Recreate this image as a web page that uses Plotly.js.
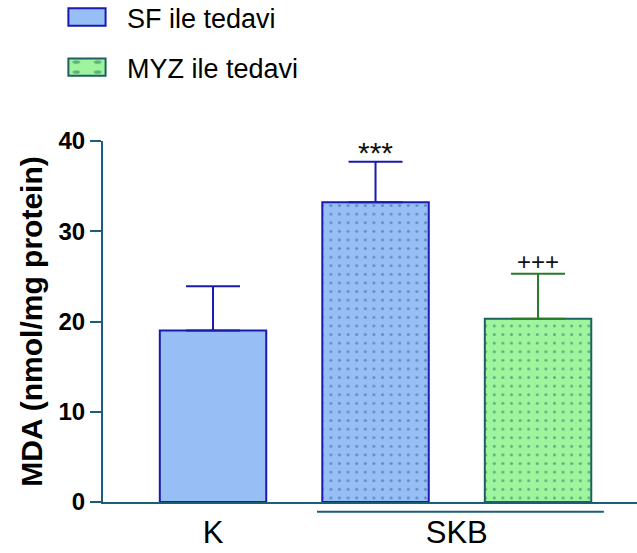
<!DOCTYPE html>
<html><head><meta charset="utf-8">
<script src="https://cdn.plot.ly/plotly-3.0.1.min.js"></script>
<style>html,body{margin:0;padding:0;background:#fff}#chart{width:637px;height:553px}</style>
</head><body><div id="chart"></div>
<script>
const groupLabels = ['K', 'SKB'];
const barNames = ['K SF', 'SKB SF', 'SKB MYZ'];
const treatments = ['SF ile tedavi', 'MYZ ile tedavi'];
const means = [19.0, 33.2, 20.3];
const sems = [4.9, 4.5, 5.0];
const sigMarks = ['', '***', '+++'];

const xs = [0, 1, 2];
const blueFill = '#97BFF5', blueLine = '#1A1AB0';
const greenFill = '#9EF59E', greenLine = '#1F6060', greenErr = '#2A782A';
const axisCol = '#1B5E78';
const BW = 0.655;

function barTrace(i, name, fill, line, errCol, pattern, showlegend, group) {
  const t = {
    type: 'bar', x: [xs[i]], y: [means[i]], width: [BW], name: name,
    legendgroup: group, showlegend: showlegend,
    marker: {color: fill, line: {color: line, width: 2}},
    error_y: {type: 'data', symmetric: false, array: [sems[i]], arrayminus: [0],
      color: errCol, thickness: 2, width: 27},
    hoverinfo: 'skip'
  };
  if (pattern) t.marker.pattern = {shape: '.', bgcolor: fill, fgcolor: pattern, size: 8.6, solidity: 0.1, fillmode: 'overlay'};
  return t;
}

const data = [
  barTrace(0, treatments[0], blueFill, blueLine, blueLine, null, true, 'g1'),
  barTrace(1, treatments[0], blueFill, blueLine, blueLine, '#2A5A9A', false, 'g1'),
  barTrace(2, treatments[1], greenFill, greenLine, greenErr, '#1F6A5A', true, 'g2')
];

const annotations = [];
const markSize = [0, 30, 24];
const markShift = [0, -9, -3];
for (let i = 0; i < xs.length; i++) {
  if (sigMarks[i]) annotations.push({x: xs[i], y: means[i] + sems[i], xref: 'x', yref: 'y',
    text: sigMarks[i], showarrow: false, yanchor: 'bottom', yshift: markShift[i],
    font: {family: 'Liberation Sans, Arial, sans-serif', size: markSize[i], color: '#111'}});
}

const layout = {
  width: 637, height: 553,
  margin: {l: 103, r: 0, t: 141, b: 51},
  paper_bgcolor: '#fff', plot_bgcolor: '#fff',
  font: {family: 'Liberation Sans, Arial, sans-serif', color: '#000'},
  barmode: 'overlay',
  xaxis: {range: [-0.677, 2.609], tickvals: [xs[0], (xs[1] + xs[2]) / 2], ticktext: groupLabels,
    showline: true, linecolor: axisCol, linewidth: 2, ticks: '', showgrid: false, zeroline: false,
    tickfont: {size: 31, color: '#000'}, ticklabelstandoff: 2},
  yaxis: {range: [0, 40], dtick: 10, tick0: 0, showline: true, linecolor: axisCol, linewidth: 2,
    ticks: 'outside', ticklen: 11, tickwidth: 2, tickcolor: axisCol, showgrid: false, zeroline: false,
    tickfont: {size: 24, color: '#000', weight: 'bold'},
    title: {text: 'MDA (nmol/mg protein)', font: {size: 30, weight: 'bold', color: '#000'}, standoff: 7}},
  legend: {x: -0.03, y: 1.388, xanchor: 'left', yanchor: 'top', traceorder: 'grouped', tracegroupgap: 12,
    font: {size: 27, color: '#000'}, bgcolor: 'rgba(0,0,0,0)'},
  shapes: [{type: 'line', xref: 'x', yref: 'paper', x0: xs[1] - 0.36, x1: xs[2] + 0.405,
    y0: -0.027, y1: -0.027, line: {color: axisCol, width: 2}}],
  annotations: annotations,
  showlegend: true
};
Plotly.newPlot('chart', data, layout, {displayModeBar: false, staticPlot: true}).then(function (gd) {
  // let the legend keys extend beyond the legend box and widen them like the reference keys
  gd.querySelectorAll('.legend [clip-path]').forEach(function (e) { e.removeAttribute('clip-path'); });
  gd.querySelectorAll('.legend .legendpoints path').forEach(function (p) {
    p.setAttribute('transform', 'scale(3.1,1.45)');
    p.setAttribute('vector-effect', 'non-scaling-stroke');
    p.style.strokeWidth = '2px';
  });
  const lg = gd.querySelector('.legend');
  if (lg) {
    const m = /translate\(([-\d.]+)[ ,]+([-\d.]+)\)/.exec(lg.getAttribute('transform') || '');
    if (m) lg.setAttribute('transform', 'translate(' + m[1] + ',' + (parseFloat(m[2]) - 8) + ')');
  }
});
</script></body></html>
